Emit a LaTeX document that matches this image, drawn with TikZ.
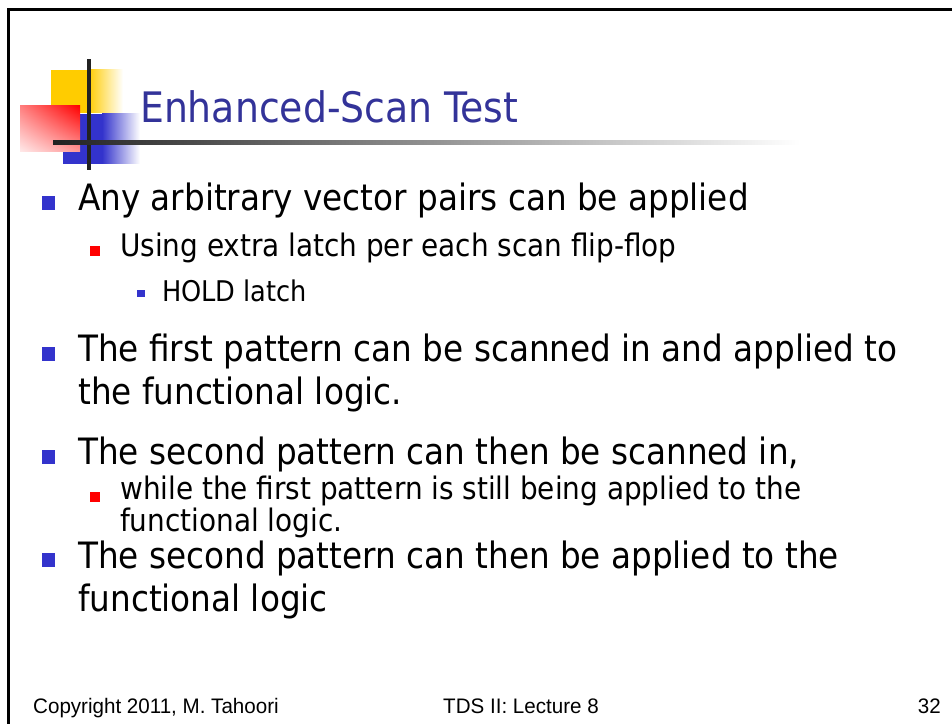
\documentclass[tikz,border=0pt]{standalone}
\usepackage{fontspec}
\IfFontExistsTF{DejaVu Sans Condensed}
  {\setmainfont{DejaVu Sans Condensed}}
  {\setmainfont{DejaVu Sans}[FakeStretch=0.9]}
\newfontfamily\footfont{Liberation Sans}[FakeStretch=0.98]
\usetikzlibrary{positioning,calc,shadings}

\definecolor{titleblue}{RGB}{51,51,153}
\definecolor{bulletblue}{RGB}{51,51,204}
\definecolor{logoyellow}{RGB}{255,204,0}
\definecolor{logoblue}{RGB}{51,51,204}
\definecolor{rulegray}{RGB}{34,34,34}

\tikzset{
  lvlone/.style={anchor=base west, inner sep=0pt, align=left,
    font=\fontsize{36.3}{43}\selectfont},
  lvltwo/.style={anchor=base west, inner sep=0pt, align=left,
    font=\fontsize{31}{28}\selectfont},
  lvlthree/.style={anchor=base west, inner sep=0pt,
    font=\fontsize{28.5}{32}\selectfont},
  bulone/.style={fill=bulletblue, inner sep=0pt, minimum width=13pt, minimum height=14pt},
  bultwo/.style={fill=red, inner sep=0pt, minimum width=10pt, minimum height=10pt},
  bulthree/.style={fill=bulletblue, inner sep=0pt, minimum width=8pt, minimum height=7pt},
  footer/.style={inner sep=0pt, font=\footfont\fontsize{21}{24}\selectfont}
}

\begin{document}
\begin{tikzpicture}[x=1pt, y=1pt]
	\useasboundingbox[fill=white] (0,0) rectangle (952,723);

	% slide frame, only top and left edges fall inside the page
	\draw[line width=3pt] (8,-20) rectangle (980,713);

	% logo squares
	\fill[logoyellow] (51,610) rectangle (88,653);
	\shade[left color=logoyellow, right color=white] (88,610) rectangle (123,653);
	\fill[logoblue] (63,559) rectangle (102,609);
	\shade[left color=logoblue, right color=white] (102,559) rectangle (140,609);
	\shade[upper right=red, upper left=red!50!white,
	       lower right=red!40!white, lower left=red!8!white] (20,571) rectangle (80,617);
	\fill[rulegray] (87,553) rectangle (91,664);
	\shade[left color=rulegray, right color=white] (53,578) rectangle (800,582);

	% title
	\node[anchor=base west, inner sep=0pt, text=titleblue,
	      font=\fontsize{42}{48}\selectfont] (title) at (140,600) {Enhanced-Scan Test};

	% bullet text (base of a two-line node is its last line)
	\node[lvlone] (anyvec) at (78,512) {Any arbitrary vector pairs can be applied};
	\node[lvltwo] (extralatch) at (120,466) {Using extra latch per each scan flip-flop};
	\node[lvlthree] (holdlatch) at (162,421) {HOLD latch};
	\node[lvlone] (firstpat) at (78,318) {The first pattern can be scanned in and applied to\\the functional logic.};
	\node[lvlone] (secondpat) at (78,258) {The second pattern can then be scanned in,};
	\node[lvltwo] (stillapp) at (120,192) {while the first pattern is still being applied to the\\functional logic.};
	\node[lvlone] (secondapp) at (78,112) {The second pattern can then be applied to the\\functional logic};

	% bullets
	\node[bulone] at ($(anyvec.base west)+(-29.5,8)$) {};
	\node[bultwo] at ($(extralatch.base west)+(-25,6)$) {};
	\node[bulthree] at ($(holdlatch.base west)+(-21,8.5)$) {};
	\node[bulone] at ($(firstpat.base west)+(-29.5,51)$) {};
	\node[bulone] at ($(secondpat.base west)+(-29.5,8)$) {};
	\node[bultwo] at ($(stillapp.base west)+(-25,34)$) {};
	\node[bulone] at ($(secondapp.base west)+(-29.5,51)$) {};

	% footer
	\node[footer, anchor=base west] (copyright) at (33,10) {Copyright 2011, M. Tahoori};
	\node[footer, anchor=base west] (lecture) at (443,10) {TDS II: Lecture 8};
	\node[footer, anchor=base east] (pagenum) at (941,10) {32};
\end{tikzpicture}
\end{document}
